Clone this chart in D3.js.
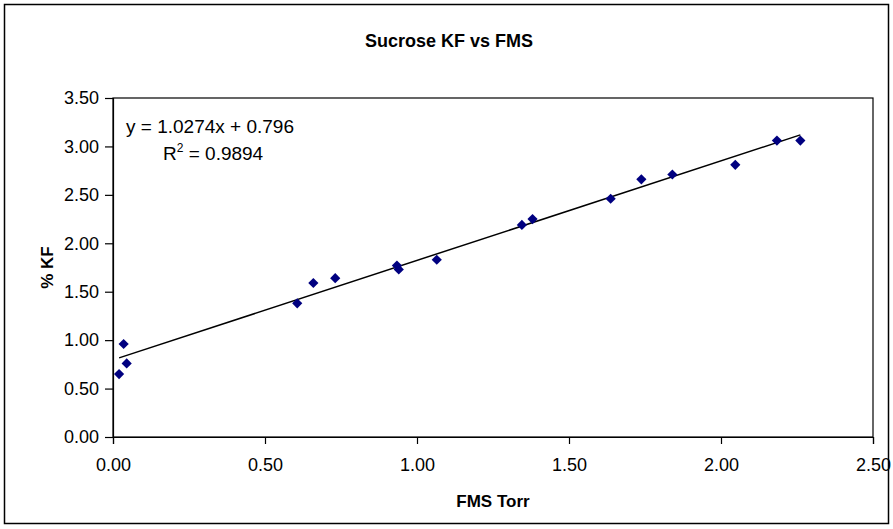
<!DOCTYPE html>
<html>
<head>
<meta charset="utf-8">
<script src="https://cdn.jsdelivr.net/npm/d3@7"></script>
<style>
  body { margin: 0; background: #fff; }
  text { font-family: "Liberation Sans", Arial, sans-serif; fill: #000; }
</style>
</head>
<body>
<svg id="chart" width="893" height="529"></svg>
<script>
// data
const fmsTorr = [0.02, 0.035, 0.045, 0.606, 0.659, 0.731, 0.934, 0.94, 1.065,
  1.345, 1.38, 1.637, 1.738, 1.84, 2.047, 2.184, 2.261]
const kfPercent = [0.65, 0.96, 0.76, 1.38, 1.59, 1.64, 1.77, 1.73, 1.83,
  2.19, 2.25, 2.46, 2.66, 2.71, 2.81, 3.06, 3.06]
const xTicks = [0, 0.5, 1, 1.5, 2, 2.5]
const yTicks = [0, 0.5, 1, 1.5, 2, 2.5, 3, 3.5]
// linear trendline as printed on the chart
const slope = 1.0274
const intercept = 0.796
const rSquared = 0.9894

const width = 893
const height = 529
const margin = { top: 98, right: 20, bottom: 92, left: 113 }

const svg = d3.select('#chart')

// outer chart border
svg.append('rect')
  .attr('x', 4.5).attr('y', 4.5)
  .attr('width', 884).attr('height', 519)
  .attr('fill', '#fff')
  .attr('stroke', '#000')
  .attr('stroke-width', 1.5)

const x = d3.scaleLinear().domain([0, 2.5]).range([margin.left, width - margin.right])
const y = d3.scaleLinear().domain([0, 3.5]).range([height - margin.bottom, margin.top])

// plot area frame
svg.append('rect')
  .attr('x', x(0)).attr('y', y(3.5))
  .attr('width', x(2.5) - x(0)).attr('height', y(0) - y(3.5))
  .attr('fill', 'none')
  .attr('stroke', '#000')
  .attr('stroke-width', 1.2)

// axes
const xAxis = svg.append('g')
  .attr('transform', `translate(0,${y(0)})`)
  .call(d3.axisBottom(x).tickValues(xTicks).tickFormat(d3.format('.2f')).tickSize(7).tickPadding(14))
const yAxis = svg.append('g')
  .attr('transform', `translate(${x(0)},0)`)
  .call(d3.axisLeft(y).tickValues(yTicks).tickFormat(d3.format('.2f')).tickSize(8).tickPadding(6))

;[xAxis, yAxis].forEach((a) => {
  a.select('.domain').attr('stroke', '#000').attr('stroke-width', 1.2)
  a.selectAll('.tick line').attr('stroke', '#000').attr('stroke-width', 1.2)
  a.selectAll('.tick text')
    .style('font-family', '"Liberation Sans", Arial, sans-serif')
    .style('font-size', '18px')
    .attr('fill', '#000')
})

// trendline across the data range
const xExtent = d3.extent(fmsTorr)
svg.append('line')
  .attr('x1', x(xExtent[0])).attr('y1', y(slope * xExtent[0] + intercept))
  .attr('x2', x(xExtent[1])).attr('y2', y(slope * xExtent[1] + intercept))
  .attr('stroke', '#000')
  .attr('stroke-width', 1.5)

// diamond markers
const diamond = d3.symbol().type(d3.symbolSquare).size(52)
svg.append('g')
  .selectAll('path')
  .data(fmsTorr.map((v, i) => [v, kfPercent[i]]))
  .join('path')
  .attr('d', diamond)
  .attr('transform', (d) => `translate(${x(d[0])},${y(d[1])}) rotate(45)`)
  .attr('fill', '#000080')

// equation label
svg.append('text')
  .attr('x', 126).attr('y', 133)
  .style('font-size', '19px')
  .text(`y = ${slope}x + ${intercept}`)
const r2 = svg.append('text')
  .attr('x', 163).attr('y', 160)
  .style('font-size', '19px')
r2.append('tspan').text('R')
r2.append('tspan').attr('dy', -8).style('font-size', '12px').text('2')
r2.append('tspan').attr('dy', 8).text(` = ${rSquared}`)

// titles
svg.append('text')
  .attr('x', 449).attr('y', 47)
  .attr('text-anchor', 'middle')
  .style('font-size', '18px')
  .style('font-weight', 'bold')
  .text('Sucrose KF vs FMS')

svg.append('text')
  .attr('x', (x(0) + x(2.5)) / 2).attr('y', 507)
  .attr('text-anchor', 'middle')
  .style('font-size', '17px')
  .style('font-weight', 'bold')
  .text('FMS Torr')

svg.append('text')
  .attr('transform', `translate(53,${(y(0) + y(3.5)) / 2}) rotate(-90)`)
  .attr('text-anchor', 'middle')
  .style('font-size', '17px')
  .style('font-weight', 'bold')
  .text('% KF')
</script>
</body>
</html>
